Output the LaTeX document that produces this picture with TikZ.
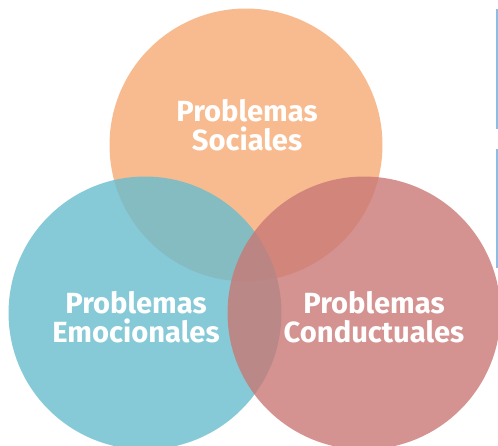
\documentclass[tikz,border=0pt]{standalone}
\usepackage{fontspec}
\setmainfont{Fira Sans}
\usepackage{tikz}
\usetikzlibrary{calc,positioning}

\definecolor{socialorange}{RGB}{248,187,143}
\definecolor{emoblue}{RGB}{104,189,206}
\definecolor{condred}{RGB}{201,120,117}
\definecolor{sideblue}{RGB}{138,189,232}

\tikzset{
	bubble/.style={circle, inner sep=0pt, minimum size=5.46cm, fill opacity=0.8},
	bubbletext/.style={text=white, align=center, font=\fontsize{16.6}{16.6}\selectfont\bfseries},
	sideline/.style={draw=sideblue, line width=0.04cm}
}

\begin{document}
\begin{tikzpicture}[x=0.02cm, y=-0.02cm]
	\useasboundingbox (0,0) rectangle (498,446);
	\clip (0,0) rectangle (498,446);

	% The three circles
	\node[bubble, fill=socialorange, fill opacity=1] (social) at (246,145) {};
	\node[bubble, fill=emoblue] (emo) at (145,313) {};
	\node[bubble, fill=condred] (cond) at (364,313) {};

	% Labels
	\node[bubbletext] (socialtxt) at ($(social.center)+(1,-20)$) {Problemas\\Sociales};
	\node[bubbletext] (emotxt) at ($(emo.center)+(-9,4)$) {Problemas\\Emocionales};
	\node[bubbletext] (condtxt) at ($(cond.center)+(10,4)$) {Problemas\\Conductuales};

	% Side bars on the right edge
	\draw[sideline] (497,9) -- (497,129);
	\draw[sideline] (497,149) -- (497,268);
\end{tikzpicture}
\end{document}
